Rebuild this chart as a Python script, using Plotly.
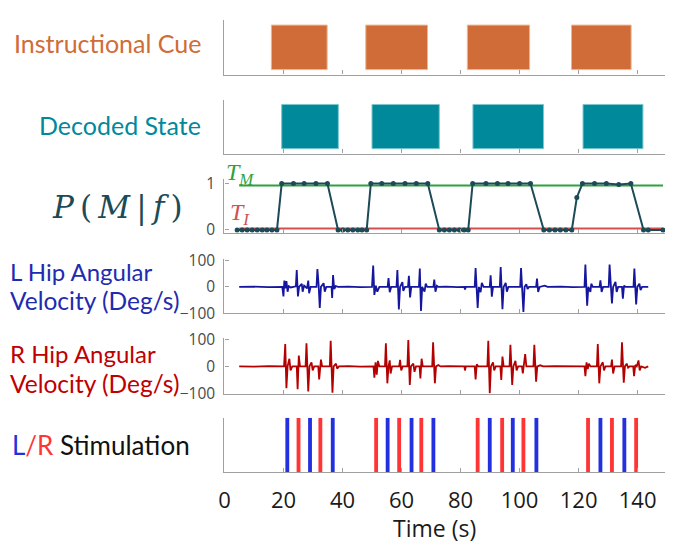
import plotly.graph_objects as go

W, H = 673, 545

# ---------------- data ----------------
cue_start = [15.9, 47.9, 82.3, 117.6]
cue_end = [34.8, 68.8, 103.4, 137.8]

dec_start = [19.4, 50.0, 84.2, 121.5]
dec_end = [38.6, 72.8, 108.1, 141.8]

P_time = [4.3, 6.0, 7.7, 9.4, 11.1, 12.8, 14.4, 16.1, 17.8,
          19.4, 23.4, 27.0, 31.0, 34.9,
          38.5, 40.1, 41.8, 43.5, 45.2, 46.6, 48.2,
          49.6, 53.3, 57.2, 61.2, 65.0, 68.9,
          72.8, 74.5, 76.2, 77.9, 79.6, 81.2, 82.6,
          84.1, 88.6, 92.5, 96.1, 100.0, 103.7,
          108.2, 110.1, 112.0, 113.8, 115.7, 117.7,
          119.4,
          121.3, 125.4, 129.4, 133.6, 137.7,
          142.0, 143.6, 148.6]
P_val = [0, 0, 0, 0, 0, 0, 0, 0, 0,
         1, 1, 1, 1, 1,
         0, 0, 0, 0, 0, 0, 0,
         1, 1, 1, 1, 1, 1,
         0, 0, 0, 0, 0, 0, 0,
         1, 1, 1, 1, 1, 1,
         0, 0, 0, 0, 0, 0,
         0.7,
         1, 1, 1, 0.98, 1,
         0, 0, 0]
T_M = 0.96
T_I = 0.03
thr_span = [5.0, 148.6]

L_time = [5, 10, 15, 19.6,
          20.0, 20.3, 20.6, 21.0, 21.4, 21.8, 22.5,
          24.2, 24.5, 24.9, 25.3, 26.2, 26.5, 27.0, 28.0, 28.4, 28.7, 29.2,
          31.2, 31.5, 31.9, 32.3, 32.7, 33.6, 34.0, 34.5,
          36.3, 36.5, 36.8, 37.2, 37.7, 38.5, 42, 46, 50,
          50.4, 50.8, 51.3, 51.8, 52.5,
          55.3, 55.6, 56.0, 56.5,
          58.3, 58.6, 59.1, 59.5, 60.3, 60.6, 61.2,
          62.2, 62.5, 62.9, 63.3,
          65.9, 66.2, 66.6, 67.0, 67.8, 68.2, 68.7,
          70.8, 71.1, 71.5, 72.0, 72.5, 75, 79,
          81.3, 81.5, 81.8,
          84.8, 85.1, 85.8, 86.2, 86.8, 87.2, 87.8,
          89.9, 90.2, 90.6, 91.0,
          93.3, 93.6, 94.2, 94.6, 95.3, 95.7, 96.2,
          100.2, 100.5, 101.3, 101.7, 102.3, 102.7, 103.2,
          105.6, 105.9, 106.3, 106.8, 108.5, 109.5, 114, 118,
          122.0, 122.3, 122.9, 123.3, 124.0, 124.3, 124.8,
          127.1, 127.4, 127.8, 128.3,
          130.2, 130.5, 131.3, 131.7, 132.5, 132.9, 133.4,
          134.7, 135.0, 135.4, 135.9,
          138.6, 138.9, 139.5, 139.9, 140.6, 141.0, 141.5, 143.6]
L_vel = [0, 1, -1, 0,
         -36, 24, -5, 22, -18, 3, -2,
         2, 64, -36, 0, 12, -18, 5, -5, 24, -24, 0,
         0, 67, 10, -79, 0, 14, -18, 0,
         0, -42, 45, -8, 3, 0, 1, -1, 0,
         81, -30, 5, -18, 0,
         0, 33, -20, 0,
         0, 64, -85, 0, 18, -15, 0,
         0, 42, -40, 0,
         0, 69, -91, 0, -18, 12, 0,
         0, 28, -18, 4, 0, 1, -1,
         0, -10, 0,
         0, 71, -79, 0, -20, 15, 0,
         0, 44, -37, 0,
         0, 75, -84, 0, 15, -18, 0,
         0, 71, -94, 0, 10, -8, 0,
         0, 31, -19, 0, 5, 0, 1, -1,
         0, 84, -71, 0, -19, 12, 0,
         0, 25, -19, 0,
         0, 84, -62, 0, 19, -19, 0,
         0, -44, 5, 0,
         0, 69, -66, 0, 12, -12, 0, 0]

R_time = [5, 10, 15, 20.2,
          20.6, 21.0, 21.4, 22.0, 22.4, 23.0,
          24.5, 24.8, 25.2, 25.6,
          27.5, 27.8, 28.4, 28.8, 29.5, 29.9, 30.4,
          31.8, 32.1, 32.7, 33.1,
          35.7, 36.0, 36.6, 37.0, 37.8, 38.2, 38.8, 42, 46,
          50.5, 50.8, 51.2, 51.6, 52.0, 52.5,
          54.4, 54.7, 55.2, 55.6, 56.0, 56.3, 56.8,
          59.2, 59.5, 59.9, 60.4,
          62.0, 62.3, 62.8, 63.2, 64.0, 64.4, 64.9,
          66.1, 66.4, 66.8, 67.2,
          70.4, 70.7, 71.3, 71.7, 72.5, 73.2, 76, 79,
          81.3, 81.5, 81.8,
          84.8, 85.1, 85.5, 86.0,
          89.1, 89.4, 89.9, 90.3, 91.0, 91.4, 91.9,
          93.5, 93.8, 94.2, 94.6,
          96.6, 96.9, 97.5, 97.9, 98.6, 99.0, 99.5,
          100.8, 101.1, 101.9, 102.3,
          104.7, 105.0, 105.6, 106.0, 107.0, 108.0, 112, 118,
          122.0, 122.3, 122.7, 123.1, 123.5, 124.0,
          126.2, 126.5, 127.0, 127.4, 128.2, 128.6, 129.1,
          131.0, 131.3, 131.7, 132.2,
          134.4, 134.7, 135.3, 135.7, 136.3, 136.8, 137.3,
          138.5, 138.8, 139.2, 139.7, 140.3, 140.7, 141.2, 142.5, 143.6]
R_vel = [0, -1, 1, 0,
         82, -80, 0, 28, -15, 0,
         0, -84, 40, 0,
         0, 85, -92, 0, 15, -15, 0,
         0, -48, 25, 0,
         0, 94, -96, 0, 10, -8, 0, 1, -1,
         0, -41, 15, -30, 20, 0,
         0, 85, -62, 0, 22, -26, 0,
         0, 24, -15, 0,
         0, 97, -68, 0, 10, -20, 0,
         0, -44, 28, 0,
         0, 88, -62, 0, 5, 0, 1, -1,
         0, -15, 0,
         0, -48, 8, 0,
         0, 94, -98, 0, 15, -15, 0,
         0, -50, 36, 0,
         0, 79, -68, 0, 20, -15, 0,
         0, -26, 45, 0,
         0, 79, -56, 0, 4, 0, 1, -1,
         0, -36, 15, -10, 10, 0,
         0, 82, -62, 0, 15, -15, 0,
         0, 25, -26, 0,
         0, 88, -60, 0, 10, -5, 0,
         0, -36, 5, 0, 22, -15, 0, -5, 0]

stim_L = [21.3, 29.0, 36.7, 55.3, 63.4, 70.8, 89.9, 97.7, 105.7, 127.4, 135.5]
stim_R = [25.1, 32.5, 51.4, 59.2, 66.7, 85.8, 94.1, 101.3, 123.2, 131.3, 139.5]

x_ticks = [0, 20, 40, 60, 80, 100, 120, 140]

# ---------------- styling ----------------
ORANGE = "#d06c37"
TEAL = "#00899a"
PTEAL = "#1c4b57"
GREEN = "#2ea23a"
TRED = "#d25050"
LBLUE = "#15159e"
RRED = "#b30000"
SBLUE = "#2230e0"
SRED = "#ff3535"
AXC = "#a0a0a0"
FONT = "Lato"
TICKFONT = "Open Sans"

X_RANGE = [0, 149.3]
XDOM = [220.4 / W, 665 / W]


def ydom(top_px, bot_px):
    return [1 - bot_px / H, 1 - top_px / H]


panels = [  # (top px, bottom px, range)
    (10, 67, [0, 1]),
    (93, 149, [0, 1]),
    (175, 231.7, [-0.07, 1.108]),
    (258, 315, [-100, 107]),
    (340.5, 398.3, [-100, 104]),
    (423.3, 480, [0, 1]),
]

fig = go.Figure()

mid = lambda a, b: [(x + y) / 2 for x, y in zip(a, b)]
wid = lambda a, b: [y - x for x, y in zip(a, b)]

fig.add_trace(go.Bar(x=mid(cue_start, cue_end), y=[0.81] * len(cue_start), base=0.09,
                     width=wid(cue_start, cue_end), marker=dict(color=ORANGE, line=dict(color="#f2b48c", width=1)),
                     xaxis="x", yaxis="y", showlegend=False))
fig.add_trace(go.Bar(x=mid(dec_start, dec_end), y=[0.82] * len(dec_start), base=0.09,
                     width=wid(dec_start, dec_end), marker=dict(color=TEAL, line=dict(color="#7cc7cf", width=1)),
                     xaxis="x2", yaxis="y2", showlegend=False))

fig.add_trace(go.Scatter(x=thr_span, y=[T_M, T_M], mode="lines", line=dict(color=GREEN, width=2),
                         xaxis="x3", yaxis="y3", showlegend=False))
fig.add_trace(go.Scatter(x=thr_span, y=[T_I, T_I], mode="lines", line=dict(color=TRED, width=2),
                         xaxis="x3", yaxis="y3", showlegend=False))
fig.add_trace(go.Scatter(x=P_time, y=P_val, mode="lines+markers", line=dict(color=PTEAL, width=2),
                         marker=dict(color=PTEAL, size=5), xaxis="x3", yaxis="y3", showlegend=False))

fig.add_trace(go.Scatter(x=L_time, y=L_vel, mode="lines", line=dict(color=LBLUE, width=1.8),
                         xaxis="x4", yaxis="y4", showlegend=False))
fig.add_trace(go.Scatter(x=R_time, y=R_vel, mode="lines", line=dict(color=RRED, width=1.8),
                         xaxis="x5", yaxis="y5", showlegend=False))

fig.add_trace(go.Bar(x=stim_L, y=[1] * len(stim_L), width=1.3, marker=dict(color=SBLUE, line=dict(width=0)),
                     xaxis="x6", yaxis="y6", showlegend=False))
fig.add_trace(go.Bar(x=stim_R, y=[1] * len(stim_R), width=1.3, marker=dict(color=SRED, line=dict(width=0)),
                     xaxis="x6", yaxis="y6", showlegend=False))

layout = dict(width=W, height=H, margin=dict(l=0, r=0, t=0, b=0),
              paper_bgcolor="white", plot_bgcolor="white", barmode="overlay",
              font=dict(family=FONT, color="#333"))

for i, (top, bot, rng) in enumerate(panels, start=1):
    sfx = "" if i == 1 else str(i)
    layout["xaxis" + sfx] = dict(domain=XDOM, range=X_RANGE, anchor="y" + sfx,
                                 showline=True, linecolor=AXC, linewidth=1.3,
                                 ticks="inside", ticklen=4, tickcolor=AXC, tickwidth=1.3,
                                 tickvals=x_ticks, showgrid=False, zeroline=False,
                                 showticklabels=(i == 6),
                                 tickfont=dict(size=22, color="#1a1a1a", family=TICKFONT),
                                 ticklabelstandoff=8)
    ya = dict(domain=ydom(top, bot), range=rng, anchor="x" + sfx,
              showline=True, linecolor=AXC, linewidth=1.3, showgrid=False, zeroline=False,
              ticklabelstandoff=5,
              tickfont=dict(size=15.5, color="#4a4a4a", family=TICKFONT))
    if i == 3:
        ya.update(tickvals=[0, 1], ticks="inside", ticklen=4, tickcolor=AXC, showticklabels=True)
    elif i in (4, 5):
        ya.update(tickvals=[-100, 0, 100], ticks="inside", ticklen=4, tickcolor=AXC, showticklabels=True)
    else:
        ya.update(showticklabels=False, ticks="")
    layout["yaxis" + sfx] = ya

fig.update_layout(**layout)


def ann(text, px, py, color, size, xanchor="center", family=FONT):
    fig.add_annotation(text=text, x=px / W, y=1 - py / H, xref="paper", yref="paper",
                       xanchor=xanchor, yanchor="middle", showarrow=False,
                       font=dict(size=size, color=color, family=family))


ann("Instructional Cue", 199, 34, ORANGE, 25, xanchor="right")
ann("Decoded State", 199, 119, TEAL, 25, xanchor="right")
ann("<i>P</i>\u2009(\u2009<i>M</i>\u2009|\u2009<i>f</i>\u2009)", 112, 205, PTEAL, 31, family="DejaVu Serif")
ann("<i>T<sub>M</sub></i>", 236, 170, GREEN, 24, family="Liberation Serif")
ann("<i>T<sub>I</sub></i>", 236, 212, TRED, 24, family="Liberation Serif")
ann("L Hip Angular", 2, 271, "#1f2bb0", 24, xanchor="left")
ann("Velocity (Deg/s)", 2, 302, "#1f2bb0", 24.5, xanchor="left")
ann("R Hip Angular", 2, 357, "#c00000", 24, xanchor="left")
ann("Velocity (Deg/s)", 2, 388, "#c00000", 24.5, xanchor="left")
ann("<span style='color:#2230e0'>L</span><span style='color:#ff3535'>/R</span> Stimulation",
    4, 452, "#111", 26, xanchor="left")
ann("Time (s)", 432, 538, "#1a1a1a", 23, family=TICKFONT)

fig.write_html("out.html")
